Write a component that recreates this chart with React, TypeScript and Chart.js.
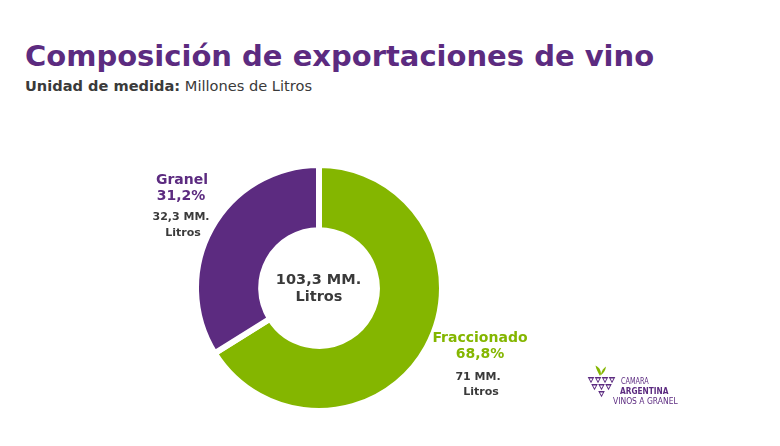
import React, { useEffect, useRef } from "react";
import { Chart, registerables } from "chart.js";

Chart.register(...registerables);

const categories = ["Fraccionado", "Granel"];
// volumes (millions of litres) as printed on the chart
const volumes = [71, 32.3];
const total = 103.3;
// slice sizes as drawn in the picture (angles read from the donut)
const arcShares = [66.1, 33.9];
const shareLabels = ["68,8%", "31,2%"];
const unitLabel = "Litros";
const colors = ["#84B600", "#5C2B80"];

const fmt = (v: number) => `${String(v).replace(".", ",")} MM.`;

const PURPLE = "#5C2B80";
const GREEN = "#84B600";
const DARK = "#3A3A3A";
const FONT = "'DejaVu Sans', sans-serif";

type TxtProps = {
  x: number;
  baseline: number;
  size: number;
  weight?: number | string;
  color?: string;
  align?: "left" | "center";
  children: React.ReactNode;
};

function Txt({ x, baseline, size, weight = 700, color = DARK, align = "center", children }: TxtProps) {
  const lh = size * 1.2;
  const top = baseline - lh / 2 - 0.346 * size;
  return (
    <div
      style={{
        position: "absolute",
        left: x,
        top,
        fontFamily: FONT,
        fontSize: size,
        fontWeight: weight as any,
        color,
        lineHeight: `${lh}px`,
        whiteSpace: "nowrap",
        transform: align === "center" ? "translateX(-50%)" : undefined,
      }}
    >
      {children}
    </div>
  );
}

function Logo() {
  const tri = (cx: number, top: number, w: number, h: number) =>
    `${cx - w / 2},${top} ${cx + w / 2},${top} ${cx},${top + h}`;
  const rows = [
    { y: 377, n: 4 },
    { y: 384, n: 3 },
    { y: 391, n: 1 },
  ];
  const w = 7;
  const h = 6.2;
  const centerX = 601.5;
  const polys: React.ReactNode[] = [];
  rows.forEach((r, ri) => {
    for (let i = 0; i < r.n; i++) {
      const cx = centerX + (i - (r.n - 1) / 2) * w;
      polys.push(<polygon key={`t${ri}-${i}`} points={tri(cx, r.y, w - 0.4, h)} fill={PURPLE} />);
      polys.push(<polygon key={`i${ri}-${i}`} points={tri(cx, r.y + 1.5, 3, 2.7)} fill="#fff" />);
    }
  });
  const line = (text: string, left: number, top: number, weight: number, sx: number) => (
    <div
      style={{
        position: "absolute",
        left,
        top,
        fontFamily: FONT,
        fontSize: 9.5,
        fontWeight: weight,
        lineHeight: "9px",
        color: PURPLE,
        whiteSpace: "nowrap",
        transform: `scaleX(${sx})`,
        transformOrigin: "left center",
      }}
    >
      {text}
    </div>
  );
  return (
    <>
      <svg style={{ position: "absolute", left: 0, top: 0 }} width={780} height={446}>
        {polys}
        <path d="M600,376 C598,372 596,369 595.5,365.5 C599,367 601,370 601,374 Z" fill={GREEN} />
        <path d="M601,374 C602,370 604,368 606,366.5 C605.5,370 604,373 601,375 Z" fill={GREEN} />
      </svg>
      {line("CAMARA", 621, 375.5, 400, 0.68)}
      {line("ARGENTINA", 620, 385.5, 700, 0.78)}
      {line("VINOS A GRANEL", 613, 395.5, 400, 0.8)}
    </>
  );
}

export default function App() {
  const canvasRef = useRef<HTMLCanvasElement | null>(null);

  useEffect(() => {
    document.body.style.margin = "0";
    const canvas = canvasRef.current;
    if (!canvas) return;
    const chart = new Chart(canvas, {
      type: "doughnut",
      data: {
        labels: categories,
        datasets: [
          {
            data: arcShares,
            backgroundColor: colors,
            borderColor: "#ffffff",
            borderWidth: 6,
            hoverOffset: 0,
          },
        ],
      },
      options: {
        animation: false,
        responsive: false,
        maintainAspectRatio: false,
        devicePixelRatio: 1,
        cutout: "47%",
        rotation: 0,
        layout: { padding: 0 },
        plugins: {
          legend: { display: false },
          tooltip: { enabled: false },
          title: { display: false },
        },
        events: [],
      },
    });
    return () => chart.destroy();
  }, []);

  return (
    <div style={{ position: "fixed", left: 0, top: 0, width: 780, height: 446, background: "#fff", overflow: "hidden" }}>
      <Txt x={25} baseline={66} size={29} color={PURPLE} align="left">
        Composición de exportaciones de vino
      </Txt>
      <Txt x={25} baseline={91} size={14.6} weight={400} color={DARK} align="left">
        <span style={{ fontWeight: 700 }}>Unidad de medida:</span> Millones de Litros
      </Txt>

      <canvas
        ref={canvasRef}
        width={252}
        height={252}
        style={{ position: "absolute", left: 192.5, top: 161.5, width: 252, height: 252 }}
      />

      <Txt x={318.5} baseline={285} size={14.5} color={DARK}>{fmt(total)}</Txt>
      <Txt x={319} baseline={302} size={14.5} color={DARK}>{unitLabel}</Txt>

      <Txt x={182} baseline={184} size={14} color={PURPLE}>{categories[1]}</Txt>
      <Txt x={181} baseline={200} size={14} color={PURPLE}>{shareLabels[1]}</Txt>
      <Txt x={181} baseline={220} size={11} color={DARK}>{fmt(volumes[1])}</Txt>
      <Txt x={183} baseline={236} size={11} color={DARK}>{unitLabel}</Txt>

      <Txt x={480} baseline={342} size={14} color={GREEN}>{categories[0]}</Txt>
      <Txt x={480} baseline={358} size={14} color={GREEN}>{shareLabels[0]}</Txt>
      <Txt x={478} baseline={380} size={11} color={DARK}>{fmt(volumes[0])}</Txt>
      <Txt x={481} baseline={395} size={11} color={DARK}>{unitLabel}</Txt>

      <Logo />
    </div>
  );
}
